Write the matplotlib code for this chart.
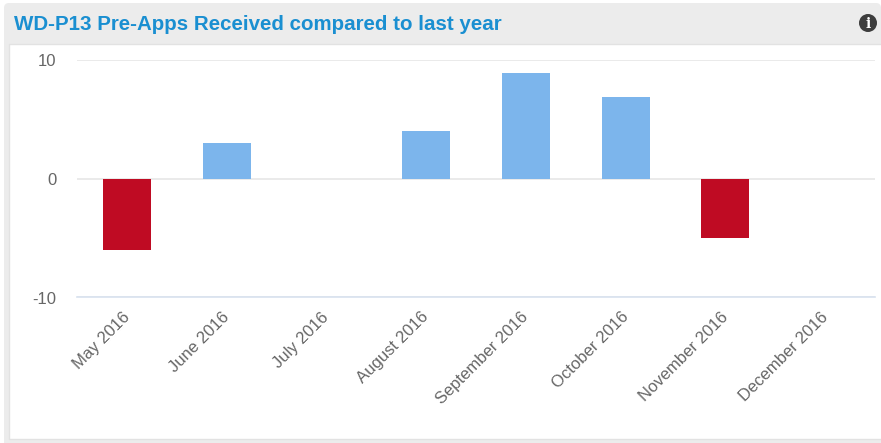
import matplotlib
matplotlib.use("Agg")
import matplotlib.pyplot as plt
from matplotlib.patches import FancyBboxPatch, Rectangle, Circle
from matplotlib.transforms import ScaledTranslation

months = ["May 2016", "June 2016", "July 2016", "August 2016",
          "September 2016", "October 2016", "November 2016", "December 2016"]
values = [-6, 3, 0, 4, 8.9, 6.9, -5, 0]
y_ticks = [-10, 0, 10]
title = "WD-P13 Pre-Apps Received compared to last year"

W, H = 881, 443
POS_COLOR = "#7cb5ec"
NEG_COLOR = "#bf0b23"

plt.rcParams["font.family"] = ["Liberation Sans", "DejaVu Sans"]
plt.rcParams["axes.unicode_minus"] = False

fig = plt.figure(figsize=(W / 100, H / 100), dpi=100, facecolor="white")

# panel drawn in pixel coordinates
bg = fig.add_axes([0, 0, 1, 1])
bg.set_xlim(0, W)
bg.set_ylim(H, 0)
bg.axis("off")
bg.add_patch(FancyBboxPatch((4, 3), W - 4, H + 10, boxstyle="round,pad=0,rounding_size=5",
                            fc="#ececec", ec="none"))
bg.add_patch(Rectangle((9, 44), W, 395, fc="white", ec="#e2e2e2", lw=1))
bg.text(14, 24, title, color="#1a8fd1", fontsize=14.8, fontweight="bold", va="center", ha="left")
bg.add_patch(Circle((868, 23), 9, fc="#3d3d3d", ec="none"))
bg.text(868, 23.5, "i", color="white", fontsize=10, fontweight="bold", ha="center", va="center",
        family="DejaVu Serif")

# plot area
left, right, top, bottom = 77, 875, 60, 297
ax = fig.add_axes([left / W, 1 - bottom / H, (right - left) / W, (bottom - top) / H])
ax.patch.set_alpha(0)
colors = [POS_COLOR if v >= 0 else NEG_COLOR for v in values]
ax.bar(range(len(months)), values, width=0.48, color=colors, zorder=3)
ax.set_xlim(-0.5, len(months) - 0.5)
ax.set_ylim(-10, 10)

for s in ["top", "right", "left"]:
    ax.spines[s].set_visible(False)
ax.spines["bottom"].set_color("#d8e2ef")
ax.spines["bottom"].set_linewidth(1.2)
ax.set_yticks(y_ticks)
ax.yaxis.grid(True, color="#e6e6e6", linewidth=1.2, zorder=0)
ax.set_axisbelow(True)
ax.tick_params(axis="y", length=0, pad=15, labelsize=12, labelcolor="#666666")
for lab in ax.get_yticklabels():
    lab.set_transform(lab.get_transform() + ScaledTranslation(0, -0.5 / 100, fig.dpi_scale_trans))
ax.set_xticks(range(len(months)))
ax.set_xticklabels(months, rotation=45, ha="right", va="top", rotation_mode="anchor",
                   fontsize=12, color="#666666")
ax.tick_params(axis="x", length=0, pad=9)
for lab in ax.get_xticklabels():
    lab.set_transform(lab.get_transform() + ScaledTranslation(-5 / 100, 0, fig.dpi_scale_trans))

fig.savefig("out.png", dpi=100)
